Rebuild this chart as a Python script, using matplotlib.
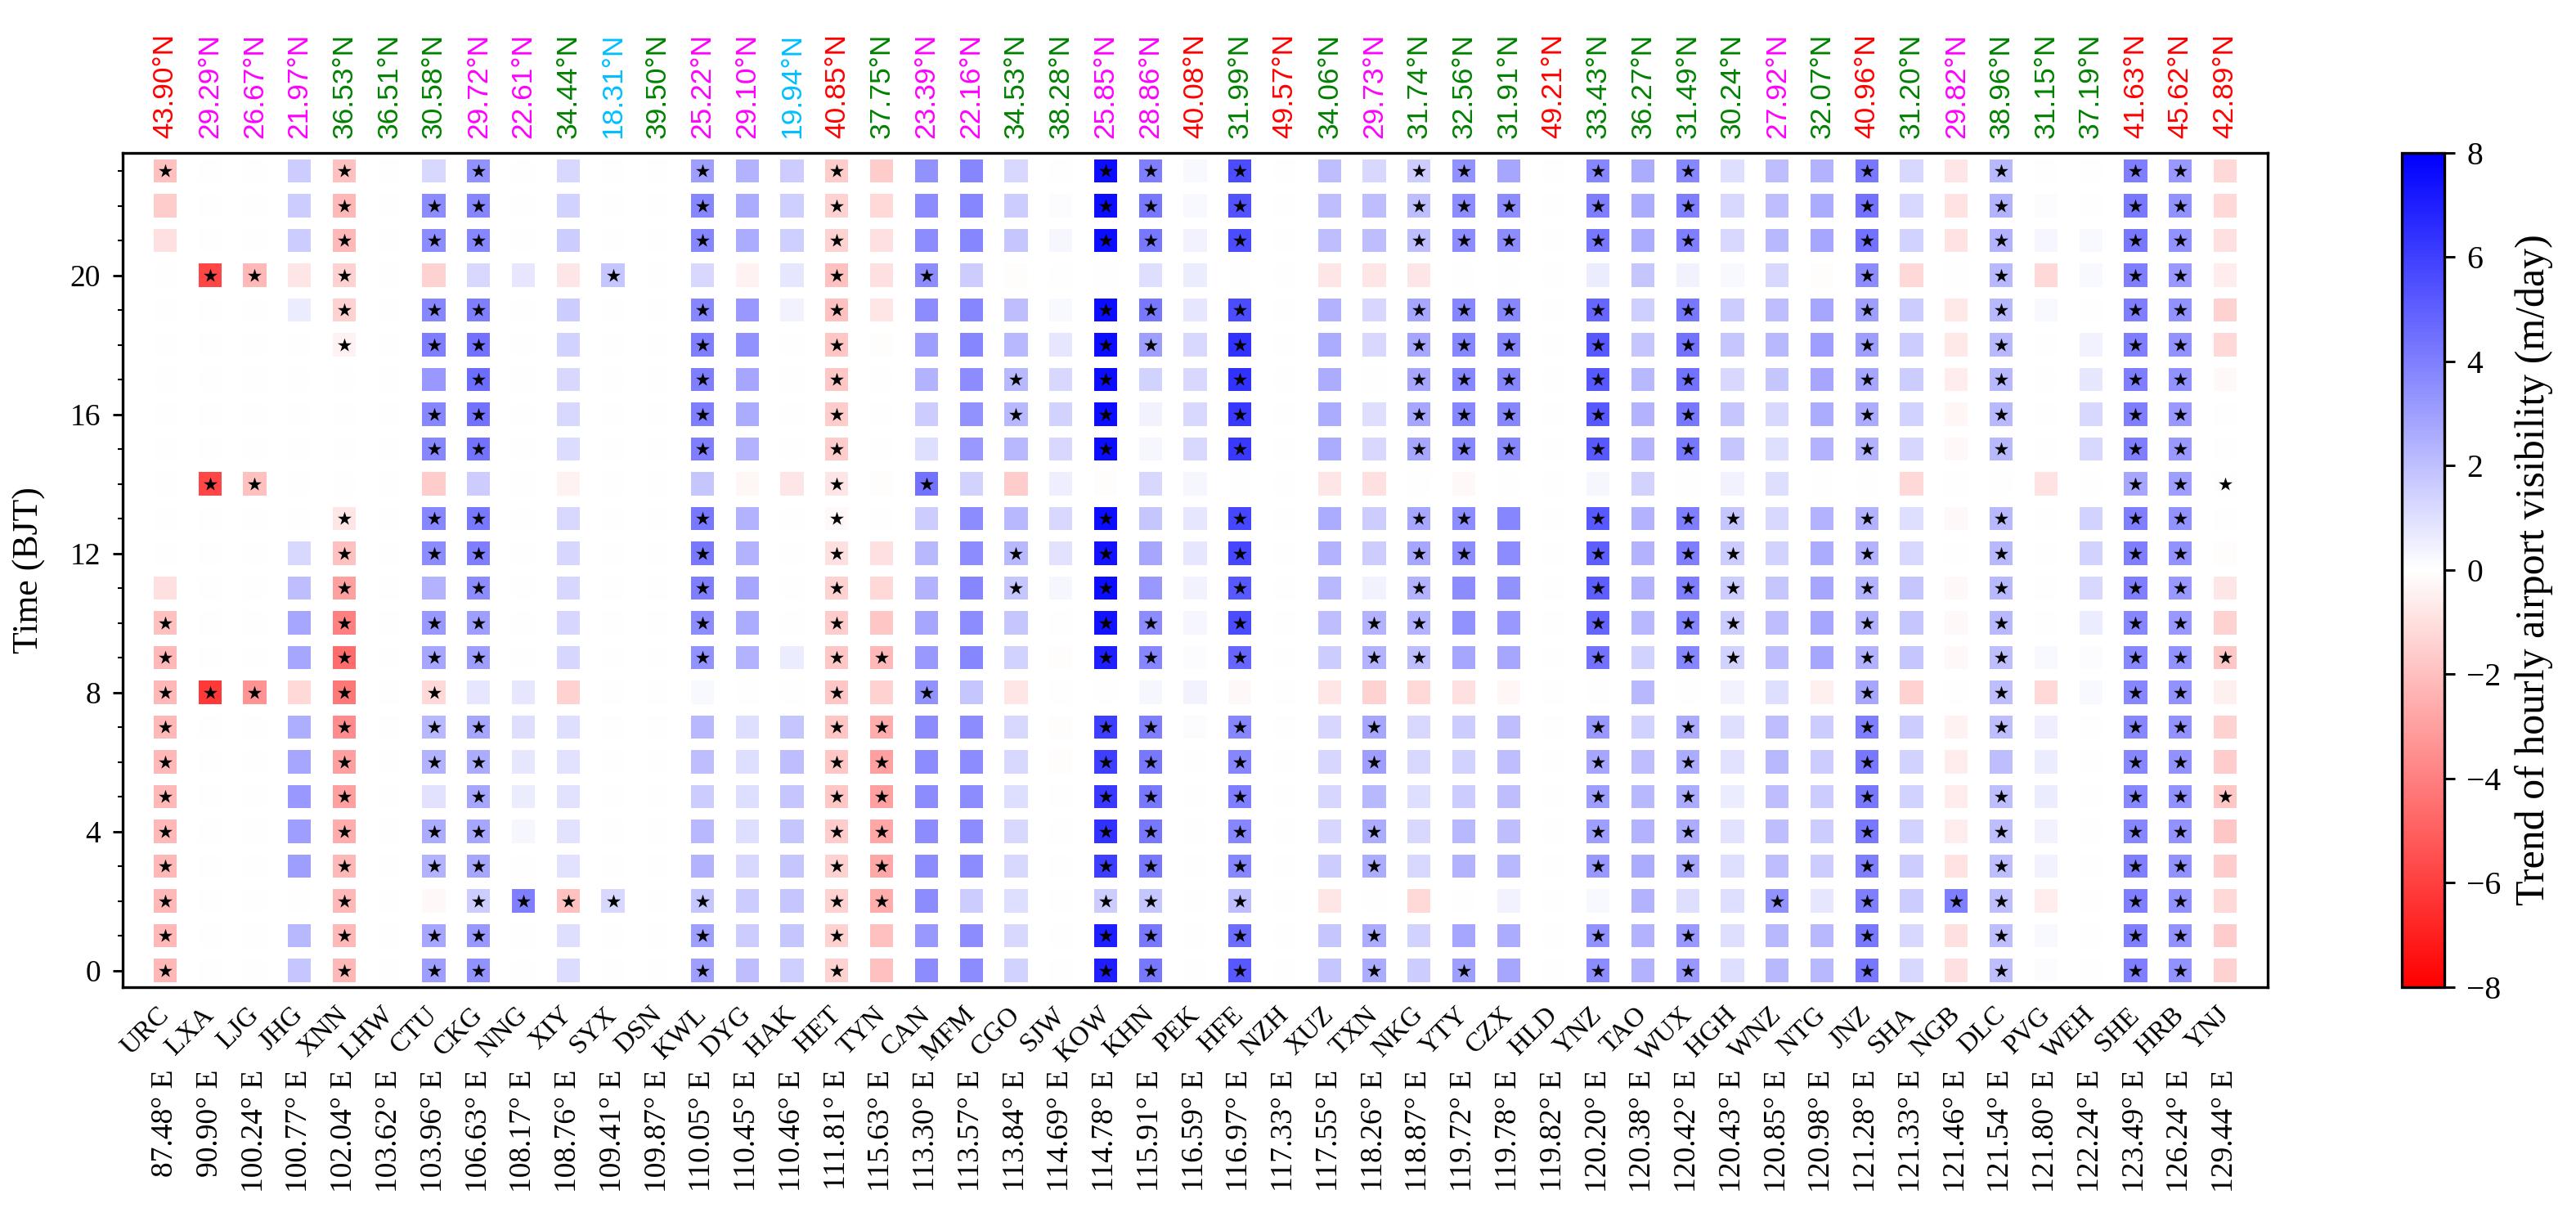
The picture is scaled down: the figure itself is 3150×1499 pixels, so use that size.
import matplotlib
matplotlib.use("Agg")
import matplotlib.pyplot as plt
from matplotlib.ticker import MultipleLocator
import matplotlib.transforms as mtransforms
import numpy as np

plt.rcParams['font.family'] = ['Liberation Serif', 'DejaVu Serif']

stations = ['URC', 'LXA', 'LJG', 'JHG', 'XNN', 'LHW', 'CTU', 'CKG', 'NNG', 'XIY', 'SYX', 'DSN',
            'KWL', 'DYG', 'HAK', 'HET', 'TYN', 'CAN', 'MFM', 'CGO', 'SJW', 'KOW', 'KHN', 'PEK',
            'HFE', 'NZH', 'XUZ', 'TXN', 'NKG', 'YTY', 'CZX', 'HLD', 'YNZ', 'TAO', 'WUX', 'HGH',
            'WNZ', 'NTG', 'JNZ', 'SHA', 'NGB', 'DLC', 'PVG', 'WEH', 'SHE', 'HRB', 'YNJ']

lats = [43.90, 29.29, 26.67, 21.97, 36.53, 36.51, 30.58, 29.72, 22.61, 34.44, 18.31, 39.50,
        25.22, 29.10, 19.94, 40.85, 37.75, 23.39, 22.16, 34.53, 38.28, 25.85, 28.86, 40.08,
        31.99, 49.57, 34.06, 29.73, 31.74, 32.56, 31.91, 49.21, 33.43, 36.27, 31.49, 30.24,
        27.92, 32.07, 40.96, 31.20, 29.82, 38.96, 31.15, 37.19, 41.63, 45.62, 42.89]

lons = [87.48, 90.90, 100.24, 100.77, 102.04, 103.62, 103.96, 106.63, 108.17, 108.76, 109.41, 109.87,
        110.05, 110.45, 110.46, 111.81, 115.63, 113.30, 113.57, 113.84, 114.69, 114.78, 115.91, 116.59,
        116.97, 117.33, 117.55, 118.26, 118.87, 119.72, 119.78, 119.82, 120.20, 120.38, 120.42, 120.43,
        120.85, 120.98, 121.28, 121.33, 121.46, 121.54, 121.80, 122.24, 123.49, 126.24, 129.44]

hours = list(range(24))

# trend (m/day) for hours 0..23, one row per station
trend = [
    [-2.2, -2.2, -2.2, -2.2, -2.2, -2.2, -2.2, -2.2, -2.2, -2.2, -2.0, -1.0, 0, 0, 0, 0, 0, 0, 0, 0, 0, -1.0, -1.6, -2.0],  # URC
    [0, 0, 0, 0, 0, 0, 0, 0, -6.2, 0, 0, 0, 0, 0, -5.8, 0, 0, 0, 0, 0, -5.8, 0, 0, 0],  # LXA
    [0, 0, 0, 0, 0, 0, 0, 0, -3.4, 0, 0, 0, 0, 0, -2.0, 0, 0, 0, 0, 0, -2.2, 0, 0, 0],  # LJG
    [1.8, 2.2, 0, 3.0, 3.0, 3.2, 2.8, 2.5, -1.2, 2.8, 2.8, 2.0, 1.2, 0, 0, 0, 0, 0, 0, 0.6, -0.8, 1.6, 1.6, 1.6],  # JHG
    [-2.2, -2.2, -2.2, -2.2, -2.6, -3.0, -3.0, -3.6, -4.2, -4.6, -4.0, -3.0, -2.0, -0.8, 0, 0, 0, 0, -0.4, -1.4, -1.4, -2.2, -2.2, -2.0],  # XNN
    [0] * 24,  # LHW
    [3.0, 2.8, -0.2, 2.4, 2.6, 0.9, 2.4, 2.2, -1.2, 2.8, 3.2, 2.4, 3.6, 3.8, -1.6, 3.8, 3.8, 3.2, 4.0, 3.8, -1.4, 3.6, 3.6, 1.2],  # CTU
    [3.4, 3.2, 1.6, 2.8, 2.8, 2.8, 2.6, 2.8, 0.8, 3.0, 3.0, 3.6, 4.0, 4.2, 1.6, 4.4, 4.4, 4.6, 4.4, 4.0, 1.2, 3.8, 3.8, 3.4],  # CKG
    [0, 0, 4.0, 0, 0.3, 0.6, 0.8, 1.0, 0.8, 0, 0, 0, 0, 0, 0, 0, 0, 0, 0, 0, 0.8, 0, 0, 0],  # NNG
    [1.1, 1.0, -2.0, 0.9, 0.9, 0.9, 0.9, 1.0, -1.4, 1.3, 1.3, 1.3, 1.3, 1.2, -0.4, 1.1, 1.2, 1.2, 1.4, 1.6, -0.8, 1.6, 1.4, 1.2],  # XIY
    [0, 0, 1.2, 0, 0, 0, 0, 0, 0, 0, 0, 0, 0, 0, 0, 0, 0, 0, 0, 0, 1.8, 0, 0, 0],  # SYX
    [0] * 24,  # DSN
    [3.0, 3.0, 1.8, 2.4, 2.2, 1.6, 2.0, 2.2, 0.2, 3.4, 3.6, 4.0, 4.2, 4.2, 1.8, 4.0, 4.0, 4.0, 4.0, 3.8, 1.2, 3.8, 3.8, 3.0],  # KWL
    [2.0, 1.6, 1.6, 1.2, 1.0, 1.0, 1.0, 1.0, 0, 2.4, 2.6, 2.8, 2.4, 2.4, -0.3, 2.4, 2.6, 2.8, 3.4, 3.2, -0.4, 2.6, 2.6, 2.4],  # DYG
    [1.5, 1.8, 1.8, 1.8, 1.8, 1.8, 2.0, 1.8, 0, 0.6, 0, 0, 0, 0, -0.8, 0, 0, 0, 0, 0.4, 0.8, 1.5, 1.5, 1.6],  # HAK
    [-1.4, -1.4, -1.4, -1.4, -1.6, -1.8, -1.8, -1.8, -1.8, -1.8, -1.6, -1.4, -1.0, -0.2, -0.8, -1.6, -1.6, -1.8, -1.8, -2.0, -2.0, -1.4, -1.4, -1.6],  # HET
    [-2.0, -2.0, -2.6, -2.8, -2.8, -3.0, -3.0, -2.6, -1.4, -2.2, -1.8, -1.2, -1.0, 0, -0.1, 0, 0, 0, -0.1, -0.8, -1.0, -1.0, -1.2, -1.6],  # TYN
    [3.6, 3.2, 3.6, 3.6, 3.6, 3.6, 3.6, 3.6, 3.4, 3.2, 2.8, 2.4, 2.2, 1.6, 4.4, 1.0, 1.6, 2.4, 3.0, 3.6, 3.6, 3.6, 3.6, 3.4],  # CAN
    [3.6, 3.6, 1.6, 3.6, 3.6, 3.6, 3.6, 3.6, 1.8, 3.8, 3.6, 3.8, 3.6, 3.6, 1.4, 3.2, 3.4, 3.6, 3.8, 3.8, 1.6, 3.8, 3.8, 3.8],  # MFM
    [1.4, 1.2, 1.0, 1.2, 1.2, 1.0, 1.2, 1.2, -0.8, 1.4, 1.8, 1.8, 2.2, 2.2, -1.6, 2.2, 2.2, 2.2, 2.2, 2.0, -0.1, 1.8, 1.6, 1.2],  # CGO
    [0, 0, -0.05, 0, -0.05, -0.05, -0.1, -0.1, 0, -0.1, 0, 0.3, 0.9, 1.2, 0.5, 1.2, 1.4, 1.2, 0.8, 0.2, 0, 0.3, 0.1, 0],  # SJW
    [7.0, 7.0, 1.6, 6.0, 6.4, 6.2, 6.0, 6.0, 0, 7.0, 7.4, 7.6, 7.4, 7.6, -0.1, 7.6, 7.6, 7.6, 7.6, 7.6, 0, 7.6, 7.6, 7.6],  # KOW
    [4.2, 4.2, 1.8, 4.2, 4.2, 4.2, 4.2, 4.0, 0.3, 3.8, 3.6, 3.2, 2.8, 1.8, 1.2, 0.3, 0.4, 1.4, 3.0, 4.2, 1.0, 4.2, 4.2, 4.0],  # KHN
    [0, 0, 0, 0, 0, 0, 0, 0.1, 0.4, 0.1, 0.3, 0.4, 0.8, 0.8, 0.3, 1.2, 1.2, 1.2, 1.2, 0.8, 0.6, 0.4, 0.2, 0.2],  # PEK
    [5.2, 4.6, 2.0, 3.8, 3.8, 4.0, 3.8, 3.8, -0.2, 4.8, 5.6, 5.2, 5.8, 5.8, 0, 6.2, 6.2, 6.4, 6.4, 5.6, 0, 5.6, 5.4, 5.6],  # HFE
    [0] * 24,  # NZH
    [1.8, 1.8, -0.8, 1.6, 1.3, 1.3, 1.3, 1.3, -0.8, 1.6, 2.0, 2.2, 2.4, 2.6, -0.8, 2.6, 2.6, 2.6, 2.6, 2.4, -0.8, 2.0, 2.0, 2.0],  # XUZ
    [2.6, 2.6, 0, 2.6, 2.6, 2.2, 3.0, 2.8, -1.4, 2.4, 2.4, 0.4, 1.6, 1.6, -1.0, 1.2, 1.0, 0, 1.2, 1.3, -0.8, 2.0, 2.0, 1.2],  # TXN
    [1.6, 1.4, -1.2, 1.2, 1.2, 1.0, 1.2, 1.2, -1.2, 2.0, 2.4, 2.4, 2.8, 2.8, 0, 2.8, 2.8, 2.8, 2.8, 2.8, -0.8, 2.0, 2.0, 1.6],  # NKG
    [3.0, 2.8, 0, 2.4, 2.2, 1.6, 1.4, 1.6, -1.0, 2.8, 3.4, 3.6, 3.6, 3.6, -0.2, 3.8, 3.8, 3.8, 3.8, 3.8, 0, 3.6, 3.6, 3.4],  # YTY
    [2.8, 2.6, 0.4, 2.2, 2.0, 2.0, 2.0, 2.0, -0.3, 2.8, 3.2, 3.4, 3.6, 3.8, 0, 3.8, 3.8, 3.8, 3.8, 3.8, 0, 3.6, 3.6, 2.8],  # CZX
    [0] * 24,  # HLD
    [3.6, 3.4, 0.2, 3.2, 3.0, 3.0, 2.8, 3.2, 0, 4.4, 4.8, 5.0, 5.0, 5.2, 0.3, 5.2, 5.2, 5.2, 5.2, 4.8, 0.6, 4.2, 4.0, 3.8],  # YNZ
    [2.4, 2.4, 2.4, 2.6, 2.4, 2.2, 2.0, 1.4, 2.2, 1.4, 2.2, 2.4, 2.4, 2.4, 1.4, 2.4, 2.4, 2.2, 1.8, 1.5, 1.8, 2.6, 2.6, 2.6],  # TAO
    [3.2, 3.2, 1.0, 2.8, 2.6, 2.6, 2.6, 2.6, 0, 3.8, 3.8, 4.0, 4.0, 4.0, 0, 4.2, 4.2, 4.4, 4.4, 4.2, 0.4, 4.0, 4.0, 3.8],  # WUX
    [1.0, 1.0, 1.0, 1.0, 0.9, 0.6, 0.9, 1.0, 0.4, 1.4, 1.6, 1.6, 1.6, 1.8, 0.4, 1.8, 1.8, 1.2, 1.8, 1.6, 0.2, 1.2, 1.2, 1.0],  # HGH
    [2.2, 2.2, 3.4, 2.0, 2.0, 2.0, 2.2, 2.0, 1.0, 2.0, 2.0, 1.8, 1.4, 1.2, 1.0, 1.0, 1.2, 1.8, 2.2, 2.0, 1.2, 2.2, 2.0, 2.0],  # WNZ
    [2.2, 2.2, 0.8, 1.6, 1.6, 1.6, 1.6, 1.6, -0.5, 2.8, 2.8, 2.8, 2.6, 2.4, 0, 2.4, 2.6, 2.8, 3.0, 2.8, -0.1, 2.8, 2.6, 2.4],  # NTG
    [4.2, 4.2, 4.0, 4.0, 4.2, 4.2, 4.2, 4.0, 2.8, 2.4, 2.4, 2.4, 2.4, 2.4, 0, 2.4, 2.6, 2.8, 3.0, 3.0, 3.6, 4.4, 4.4, 4.2],  # JNZ
    [1.2, 1.2, 1.6, 1.6, 1.4, 1.4, 1.4, 1.6, -1.4, 1.8, 1.8, 1.8, 1.2, 1.0, -1.2, 1.3, 1.4, 1.6, 1.6, 1.6, -1.2, 1.4, 1.2, 1.2],  # SHA
    [-1.0, -1.0, 4.0, -0.9, -0.6, -0.6, -0.6, -0.4, -0.05, -0.2, -0.2, -0.2, 0, -0.2, 0, -0.2, -0.3, -0.6, -0.7, -0.7, 0, -0.9, -0.9, -0.8],  # NGB
    [2.0, 2.0, 2.0, 2.0, 2.0, 2.0, 2.0, 2.0, 2.0, 2.0, 2.2, 2.2, 2.2, 2.2, 0, 2.2, 2.2, 2.2, 2.2, 2.2, 2.2, 2.4, 2.4, 2.2],  # DLC
    [0.1, 0.2, -0.6, 0.4, 0.4, 0.6, 0.6, 0.5, -1.2, 0.2, 0, 0, 0, 0, -0.9, 0, 0, 0, 0, 0.2, -1.2, 0.3, 0.1, 0],  # PVG
    [0, 0, 0, 0, 0, 0, 0, 0, 0.2, 0.1, 0.6, 1.2, 1.4, 1.4, 0, 1.2, 1.2, 0.8, 0.4, 0, 0.2, 0.2, 0, 0],  # WEH
    [4.0, 4.0, 4.0, 4.0, 3.8, 3.8, 3.8, 3.8, 3.8, 3.8, 3.8, 4.0, 4.0, 4.0, 2.8, 4.0, 4.0, 4.0, 4.0, 4.0, 4.0, 4.2, 4.2, 4.0],  # SHE
    [3.4, 3.4, 3.4, 3.4, 3.4, 3.4, 3.4, 3.4, 3.4, 3.4, 3.2, 3.2, 3.4, 3.4, 3.0, 3.2, 3.2, 3.4, 3.4, 3.4, 3.2, 3.4, 3.4, 3.2],  # HRB
    [-1.4, -1.6, -1.2, -1.6, -1.8, -1.8, -1.6, -1.4, -0.5, -1.8, -1.4, -0.8, -0.1, 0, 0, 0, -0.05, -0.2, -1.2, -1.4, -0.6, -1.0, -1.2, -1.2],  # YNJ
]

ALL = list(range(24))
# hours with a significant trend (stars), one list per station
significant = [
    list(range(0, 11)) + [23],                                      # URC
    [8, 14, 20],                                                    # LXA
    [8, 14, 20],                                                    # LJG
    [],                                                             # JHG
    list(range(0, 14)) + list(range(18, 24)),                       # XNN
    [],                                                             # LHW
    [0, 1, 3, 4, 6, 7, 8, 9, 10, 12, 13, 15, 16, 18, 19, 21, 22],   # CTU
    [h for h in ALL if h not in (8, 14, 20)],                       # CKG
    [2],                                                            # NNG
    [2],                                                            # XIY
    [2, 20],                                                        # SYX
    [],                                                             # DSN
    [0, 1, 2, 9, 10, 11, 12, 13, 15, 16, 17, 18, 19, 21, 22, 23],   # KWL
    [],                                                             # DYG
    [],                                                             # HAK
    ALL,                                                            # HET
    [2, 3, 4, 5, 6, 7, 9],                                          # TYN
    [8, 14, 20],                                                    # CAN
    [],                                                             # MFM
    [11, 12, 16, 17],                                               # CGO
    [],                                                             # SJW
    [h for h in ALL if h not in (8, 14, 20)],                       # KOW
    [0, 1, 2, 3, 4, 5, 6, 7, 9, 10, 18, 19, 21, 22, 23],            # KHN
    [],                                                             # PEK
    [h for h in ALL if h not in (8, 14, 20)],                       # HFE
    [],                                                             # NZH
    [],                                                             # XUZ
    [0, 1, 3, 4, 6, 7, 9, 10],                                      # TXN
    [9, 10, 11, 12, 13, 15, 16, 17, 18, 19, 21, 22, 23],            # NKG
    [0, 12, 13, 15, 16, 17, 18, 19, 21, 22, 23],                    # YTY
    [15, 16, 17, 18, 19, 21, 22],                                   # CZX
    [],                                                             # HLD
    [h for h in ALL if h not in (2, 8, 14, 20)],                    # YNZ
    [],                                                             # TAO
    [h for h in ALL if h not in (2, 8, 14, 20)],                    # WUX
    [9, 10, 11, 12, 13],                                            # HGH
    [2],                                                            # WNZ
    [],                                                             # NTG
    [h for h in ALL if h != 14],                                    # JNZ
    [],                                                             # SHA
    [2],                                                            # NGB
    [h for h in ALL if h not in (6, 14)],                           # DLC
    [],                                                             # PVG
    [],                                                             # WEH
    ALL,                                                            # SHE
    ALL,                                                            # HRB
    [5, 9, 14],                                                     # YNJ
]


def lat_color(lat):
    if lat >= 40:
        return 'red'
    elif lat >= 30:
        return 'green'
    elif lat >= 20:
        return 'magenta'
    return 'deepskyblue'


fig = plt.figure(figsize=(10.5, 1499 / 300), dpi=300)
ax = fig.add_axes([0.0476, 0.1948, 0.8327, 0.6805])
cax = fig.add_axes([0.9324, 0.1948, 0.0165, 0.6805])

xs, ys, vals = [], [], []
sx, sy = [], []
for i, st in enumerate(stations):
    for h in hours:
        xs.append(i)
        ys.append(h)
        vals.append(trend[i][h])
    for h in significant[i]:
        sx.append(i)
        sy.append(h)

sc = ax.scatter(xs, ys, c=vals, cmap='bwr_r', vmin=-8, vmax=8, marker='s', s=46, linewidths=0)
ax.scatter(sx, sy, marker='*', c='k', s=18, linewidths=0)

ax.set_xlim(-0.95, 46.95)
ax.set_ylim(-0.48, 23.52)

ax.set_xticks(range(len(stations)))
ax.set_xticklabels(stations, rotation=45, ha='right', va='center', rotation_mode='anchor', fontsize=8)
ax.tick_params(axis='x', length=0, pad=7)

ax.yaxis.set_major_locator(MultipleLocator(4))
ax.yaxis.set_minor_locator(MultipleLocator(1))
ax.tick_params(axis='y', which='major', labelsize=9, length=3, width=0.7)
ax.tick_params(axis='y', which='minor', length=1.5, width=0.5)
ax.set_ylabel('Time (BJT)', fontsize=10.5)
ax.yaxis.set_label_coords(-0.036, 0.5)

for sp in ax.spines.values():
    sp.set_linewidth(0.8)

trans = mtransforms.blended_transform_factory(ax.transData, ax.transAxes)
for i in range(len(stations)):
    ax.text(i, 1.018, f'{lats[i]:.2f}°N', transform=trans, rotation=90, ha='center', va='bottom',
            fontsize=8.5, color=lat_color(lats[i]), family=['Liberation Sans', 'DejaVu Sans'])
    ax.text(i, -0.099, f'{lons[i]:.2f}° E', transform=trans, rotation=90, ha='center', va='top',
            fontsize=9)

cb = fig.colorbar(sc, cax=cax, ticks=range(-8, 9, 2))
cb.ax.tick_params(labelsize=9.5, length=3, width=0.7)
cb.set_label('Trend of hourly airport visibility (m/day)', fontsize=12)
cb.outline.set_linewidth(0.8)

fig.savefig('out.png', dpi=300)
